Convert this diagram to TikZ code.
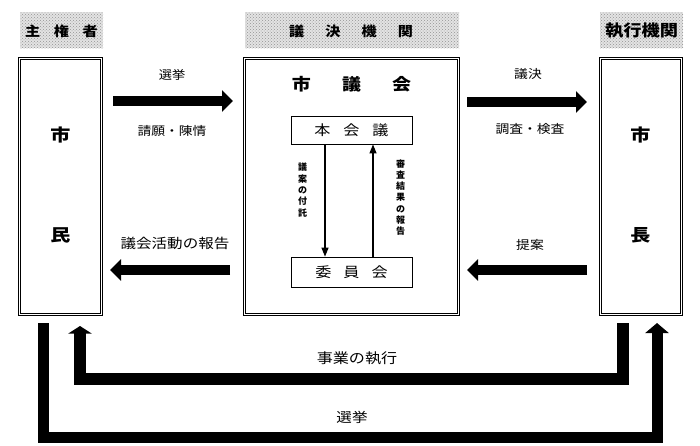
\documentclass[tikz,border=0pt]{standalone}
\usepackage{fontspec}
\newfontfamily\jp{Noto Sans CJK JP}
\usetikzlibrary{arrows.meta,patterns,calc}
\newcommand\jpw[2][1.15]{\scalebox{#1}[1]{#2}}
\begin{document}
\begin{tikzpicture}[x=1pt,y=-1pt, font=\jp,
  hdr/.style={fill=gray!22, postaction={pattern=crosshatch dots, pattern color=gray!85}},
  mainbox/.style={draw, line width=0.7pt, double=white, double distance=1.6pt, inner sep=0pt},
  subbox/.style={draw, line width=0.8pt, minimum width=121pt, minimum height=28pt, inner sep=0pt},
  fatarrow/.style={line width=10pt, -{Triangle[length=11pt,width=21pt]}},
  thinarrow/.style={line width=1.2pt, -{Triangle[length=9pt,width=7pt]}},
  bigarrow/.style={line join=miter, line cap=butt},
  lab/.style={inner sep=0pt, font=\jp\fontsize{12}{14}\selectfont},
  vlab/.style={inner sep=0pt, align=center, font=\jp\bfseries\fontsize{9}{11.3}\selectfont}
]
\useasboundingbox (0,0) rectangle (700,445);

% header backgrounds
\path[hdr] (20,12) rectangle (103,48);
\path[hdr] (245,12) rectangle (459,48);
\path[hdr] (600,12) rectangle (683,48);
\node[inner sep=0pt, font=\jp\bfseries\fontsize{13.5}{16}\selectfont] (h1) at (61.5,31) {\jpw[1.12]{主\hspace{0.9em}権\hspace{0.9em}者}};
\node[inner sep=0pt, font=\jp\bfseries\fontsize{13.5}{16}\selectfont] (h2) at (351,31) {\jpw[1.12]{議\hspace{1.4em}決\hspace{1.4em}機\hspace{1.4em}関}};
\node[inner sep=0pt, font=\jp\bfseries\fontsize{16}{18}\selectfont] (h3) at (641.5,31) {\jpw[1.14]{執行機関}};

% main boxes
\node[mainbox, minimum width=81.8pt, minimum height=255.8pt] (citizen) at (60.5,186.5) {};
\node[mainbox, minimum width=213.8pt, minimum height=255.8pt] (council) at (351.5,186.5) {};
\node[mainbox, minimum width=80.8pt, minimum height=255.8pt] (mayor) at (641,186.5) {};

\node[inner sep=0pt, font=\jp\bfseries\fontsize{17}{19}\selectfont] (c1) at (60.5,135) {\jpw[1.18]{市}};
\node[inner sep=0pt, font=\jp\bfseries\fontsize{17}{19}\selectfont] (c2) at (60.5,235) {\jpw[1.18]{民}};
\node[inner sep=0pt, font=\jp\bfseries\fontsize{17}{19}\selectfont] (m1) at (640.5,135) {\jpw[1.18]{市}};
\node[inner sep=0pt, font=\jp\bfseries\fontsize{17}{19}\selectfont] (m2) at (640.5,235) {\jpw[1.18]{長}};

\node[inner sep=0pt, font=\jp\bfseries\fontsize{16.5}{19}\selectfont] (ctitle) at (351.5,84) {\jpw{市\hspace{1.64em}議\hspace{1.64em}会}};

% inner boxes
\node[subbox, font=\jp\fontsize{14}{16}\selectfont] (plen) at (351.5,130) {\jpw{本\hspace{0.8em}会\hspace{0.8em}議}};
\node[subbox, minimum height=30pt, font=\jp\fontsize{14}{16}\selectfont] (comm) at (351.5,272) {\jpw{委\hspace{0.75em}員\hspace{0.75em}会}};

\draw[thinarrow] ($(plen.south)+(-26.5,0)$) -- ($(comm.north)+(-26.5,0)$);
\draw[thinarrow] ($(comm.north)+(21.5,0)$) -- ($(plen.south)+(21.5,0)$);
\node[vlab] (v1) at (302.5,190) {議\\案\\の\\付\\託};
\node[vlab] (v2) at (400.5,197.5) {審\\査\\結\\果\\の\\報\\告};

% side arrows
\coordinate (a1s) at (113,101);
\coordinate (a1e) at (233,101);
\coordinate (a2s) at (230,270);
\coordinate (a2e) at (110,270);
\coordinate (a3s) at (467,102);
\coordinate (a3e) at (587,102);
\coordinate (a4s) at (587,270);
\coordinate (a4e) at (467,270);
\draw[fatarrow] (a1s) -- (a1e);
\draw[fatarrow] (a2s) -- (a2e);
\draw[fatarrow] (a3s) -- (a3e);
\draw[fatarrow] (a4s) -- (a4e);

\node[lab] (l1) at (172,75) {\jpw[1.1]{選挙}};
\node[lab] (l2) at (172,131) {\jpw{請願・陳情}};
\node[lab, font=\jp\fontsize{13.5}{16}\selectfont] (l3) at (175,243) {\jpw{議会活動の報告}};
\node[lab] (l4) at (528,74) {\jpw{議決}};
\node[lab] (l5) at (530,129) {\jpw{調査・検査}};
\node[lab] (l6) at (530,245) {\jpw{提案}};

% bottom arrows
\coordinate (o1) at (43.5,323);
\coordinate (ob) at (350,437.5);
\coordinate (o3) at (657,323);
\draw[bigarrow, line width=11pt, -{Triangle[length=10pt,width=23pt]}] (o1) |- (ob) -| (o3);

\coordinate (i1) at (623,323);
\coordinate (ib) at (350,379);
\coordinate (i3) at (80,326);
\draw[bigarrow, line width=12pt, -{Triangle[length=7.5pt,width=23pt]}] (i1) |- (ib) -| (i3);

\node[lab, font=\jp\fontsize{14}{16}\selectfont] (l7) at (357,358) {\jpw{事業の執行}};
\node[lab, font=\jp\fontsize{13.5}{16}\selectfont] (l8) at (352,417) {\jpw{選挙}};
\end{tikzpicture}
\end{document}
